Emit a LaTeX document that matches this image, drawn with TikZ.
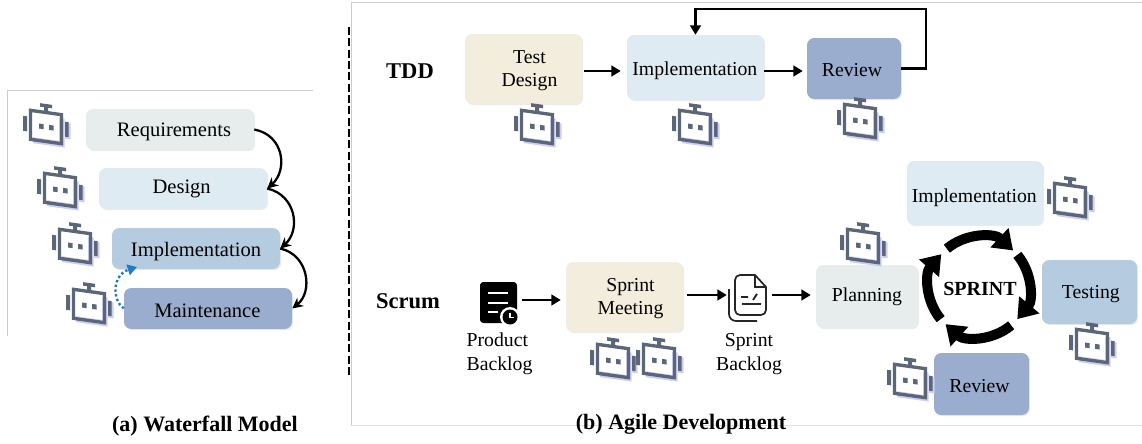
\documentclass[tikz,border=0pt]{standalone}
\usepackage{fontspec}
\setmainfont{Liberation Serif}
\usetikzlibrary{arrows.meta,shadows,calc}
\definecolor{cReq}{HTML}{E6EDEC}
\definecolor{cLight}{HTML}{DEEBF2}
\definecolor{cMid}{HTML}{B5CBE0}
\definecolor{cDark}{HTML}{9AADCE}
\definecolor{cCream}{HTML}{F2EDDC}
\definecolor{cRobot}{HTML}{5B6678}
\definecolor{cLav}{HTML}{CDCEF6}
\definecolor{cBlue}{HTML}{1F7BC4}
\definecolor{cFrame}{HTML}{CCCCCC}
\newcommand\mv[3]{\hspace*{#1pt}\raisebox{-#2pt}[\height][\depth]{#3}}
\tikzset{
  wh/.style 2 args={minimum width=#1*.75pt,minimum height=#2*.75pt},
  card/.style={rounded corners=5.5pt,inner sep=0pt,align=center,
    font=\fontsize{14.8}{18}\selectfont,
    drop shadow={shadow xshift=.9pt,shadow yshift=-.9pt,opacity=.13,fill=black!60}},
  wcard/.style={card,font=\fontsize{15.4}{18}\selectfont},
  plainlabel/.style={inner sep=0pt,align=center,font=\fontsize{14.8}{18}\selectfont},
  boldlabel/.style={inner sep=0pt,font=\bfseries\fontsize{16.9}{20}\selectfont},
  caption/.style={inner sep=0pt,font=\bfseries\fontsize{16.5}{20}\selectfont},
  iconbox/.style={inner sep=0pt,wh={#1}{#1}},
  flow/.style={line width=2pt,-{Triangle[length=7pt,width=8pt]}},
  curved/.style={line width=1.7pt,-{Stealth[length=8pt,width=8pt]}},
  ringarc/.style={line width=7.5pt,-{Triangle[length=14pt,width=19pt]}},
  botskew/.style={yslant=-.14},
  robot/.pic={
    \fill[cLav] (-13,-11) rectangle (18.5,18);
    \fill[cLav] (19,-7) rectangle (24.5,9);
    \fill[white] (-13,-12) rectangle (13,12);
    \draw[cRobot,line width=2.5pt] (-15.5,-14.5) rectangle (15.5,14.5);
    \fill[cRobot] (-23,-8) rectangle (-19,7);
    \fill[cRobot] (19,-8) rectangle (22.5,7);
    \fill[cRobot] (-2,-20) rectangle (2,-15);
    \fill[cRobot] (-6,-23) rectangle (6,-19.5);
    \fill[cRobot] (-7,-2.5) rectangle (-2.5,2.5);
    \fill[cRobot] (3,-2.5) rectangle (7.5,2.5);
  }
}
\begin{document}
\begin{tikzpicture}[x=.75pt,y=-.75pt]
\useasboundingbox (0,0) rectangle (1142,443);
% frames
\draw[cFrame,line width=.6pt] (7,336) -- (7,90) -- (313,90);
\draw[cFrame,line width=.6pt] (351,425) -- (351,2) -- (1142,2);
\draw[black!12,line width=.6pt] (351,425) -- (1142,425);
\draw[black,line width=2pt,dash pattern=on 6pt off 2.5pt] (349,27) -- (349,378);

% Waterfall
\node[wcard,wh={168}{41},fill=cReq]   (req)  at (170,129.5) {\mv{6}{1.5}{Requirements}};
\node[wcard,wh={168}{41},fill=cLight] (des)  at (183,188.5) {\mv{-2}{0}{Design}};
\node[wcard,wh={168}{41},fill=cMid]   (wimp) at (196,248.5) {\mv{0}{2}{Implementation}};
\node[wcard,wh={168}{41},fill=cDark]  (mnt)  at (208,308.5) {\mv{-1}{2}{Maintenance}};
\pic[botskew] at (46,127) {robot};
\pic[botskew] at (60,190) {robot};
\pic[botskew] at (75,246) {robot};
\pic[botskew] at (89,306) {robot};
\draw[curved] (req.east) .. controls (284,135) and (288,170) .. (des.east);
\draw[curved] (des.east) .. controls (296,195) and (301,230) .. (wimp.east);
\draw[curved] (wimp.east) .. controls (309,255) and (313,292) .. (mnt.east);
\coordinate (blueend) at (137,267);
\draw[cBlue,line width=1.8pt,dash pattern=on 1.8pt off 1.8pt,-{Triangle[length=7pt,width=8pt]}]
  (mnt.west) .. controls (112,300) and (112,275) .. (blueend);
\node[caption] (capa) at (205,426) {(a) Waterfall Model};

% TDD
\node[boldlabel] (tdd) at (410,71) {TDD};
\node[card,wh={117}{70},fill=cCream] (td)   at (523.5,69) {\mv{9}{1.5}{Test}\\\mv{9}{1}{Design}};
\node[card,wh={137}{65},fill=cLight] (timp) at (695.5,67.5) {\mv{-1}{2.5}{Implementation}};
\node[card,wh={94}{61},fill=cDark]   (trev) at (854,68.5) {\mv{-3}{1.5}{Review}};
\pic[botskew] at (537,127) {robot};
\pic[botskew] at (695,127) {robot};
\pic[botskew] at (860,121) {robot};
\draw[flow] ($(td.east)+(2,2)$) -- ($(timp.west)+(-6,3.5)$);
\draw[flow] ($(timp.east)+(0,3.5)$) -- ($(trev.west)+(-4,2.5)$);
\coordinate (fbc) at (926,9);
\draw[line width=2pt,-{Triangle[length=7pt,width=8pt]}] (trev.east) -| (fbc) -| (timp.north);

% Scrum
\node[boldlabel] (scr) at (408,301) {Scrum};
\node[iconbox=41,draw=none] (pb) at (498.5,302.5) {};
\fill[black,rounded corners=2.5pt] (480,282) rectangle (517,323);
\draw[white,line width=1.6pt] (488,293) -- (508,293) (488,303) -- (508,303) (488,312) -- (498,312);
\fill[white] (510,317) circle (10);
\fill[black] (510,317) circle (7.5);
\draw[white,line width=.8pt] (510,312.5) -- (510,317.5) -- (514,317.5);
\node[plainlabel,align=left] (pbt) at (499.5,354) {Product\\Backlog};
\node[card,wh={117}{70},fill=cCream] (sm) at (624.5,297) {\mv{9}{1.5}{Sprint}\\\mv{9}{1}{Meeting}};
\pic[botskew] at (613,361) {robot};
\pic[botskew] at (659,361) {robot};
\node[iconbox=40,draw=none] (sb) at (748,297) {};
\draw[black!85,line width=1.3pt,line join=round] (755,275) -- (740,275) to[out=180,in=90] (735,280) -- (735,310) to[out=-90,in=180] (740,315) -- (761,315) to[out=0,in=-90] (766,310) -- (766,287) -- cycle;
\draw[black!85,line width=1.3pt] (755,275) -- (755,287) -- (766,287);
\draw[black!85,line width=1.3pt] (729,289) -- (729,314) to[out=-90,in=180] (736,321) -- (757,321);
\draw[black!85,line width=1.4pt] (741,297) -- (748,297) (753,300) -- (757,294) (742,304) -- (761,304);
\node[plainlabel] (sbt) at (749,354) {Sprint\\Backlog};
\node[card,wh={102}{63},fill=cReq]   (pl)  at (867,296.5) {\mv{0}{0}{Planning}};
\draw[flow] ($(pb.east)+(3,-2.5)$) -- ($(sm.west)+(-5,3)$);
\draw[flow] ($(sm.east)+(4,-2)$) -- ($(sb.west)+(-1,-2)$);
\draw[flow] ($(sb.east)+(4,-2)$) -- ($(pl.west)+(-5,-1.5)$);

% Sprint cycle
\node[card,wh={136}{64},fill=cLight] (simp) at (975,193) {\mv{-1}{3.5}{Implementation}};
\node[card,wh={95}{64},fill=cMid]    (ste)  at (1089.5,292) {\mv{2}{1.5}{Testing}};
\node[card,wh={95}{62},fill=cDark]   (srev) at (981.5,384) {\mv{-3}{1.5}{Review}};
\pic[botskew] at (1070,200) {robot};
\pic[botskew] at (863,246) {robot};
\pic[botskew] at (1092,346) {robot};
\pic[botskew] at (910,381) {robot};
\coordinate (rc) at (979,287);
\draw[ringarc] ($(rc)+(-130:50)$) arc[start angle=130,end angle=47,radius=37.5pt];
\draw[ringarc] ($(rc)+(-40:50)$)  arc[start angle=40,end angle=-40,radius=37.5pt];
\draw[ringarc] ($(rc)+(50:50)$)   arc[start angle=-50,end angle=-132,radius=37.5pt];
\draw[ringarc] ($(rc)+(140:50)$)  arc[start angle=-140,end angle=-221,radius=37.5pt];
\node[inner sep=0pt,font=\bfseries\fontsize{15}{18}\selectfont] (spr) at (980,289) {SPRINT};
\node[caption] (capb) at (681,424) {(b) Agile Development};
\end{tikzpicture}
\end{document}
